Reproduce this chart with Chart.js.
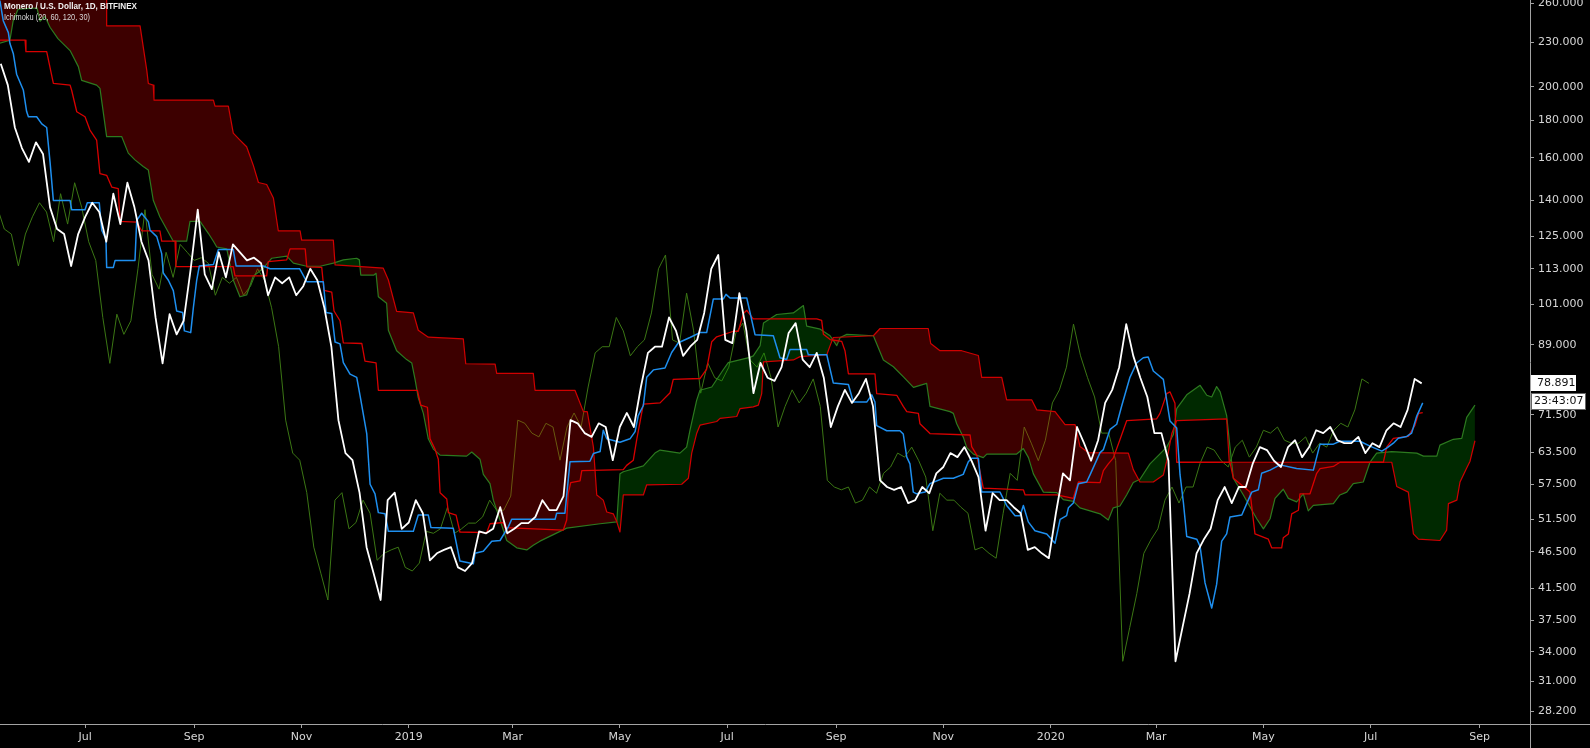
<!DOCTYPE html>
<html>
<head>
<meta charset="utf-8">
<title>XMR/USD Ichimoku</title>
<script src="https://cdn.jsdelivr.net/npm/chart.js@4.4.0/dist/chart.umd.min.js"></script>
<style>
  html, body { margin: 0; padding: 0; background: #000; }
  canvas { display: block; }
</style>
</head>
<body>
<canvas id="chart" width="1590" height="748"></canvas>
<script>
// days are counted from 1 Jul 2018
const TITLE = "Monero / U.S. Dollar, 1D, BITFINEX";
const SUBTITLE = "Ichimoku (20, 60, 120, 30)";
const dayMin = -48.45, dayMax = 821.6;
const monthDays = [0, 62, 123, 184, 243, 304, 365, 427, 488, 549, 609, 670, 731, 793];
const monthLabels = ["Jul", "Sep", "Nov", "2019", "Mar", "May", "Jul", "Sep", "Nov", "2020", "Mar", "May", "Jul", "Sep"];
const priceTicks = [28.2, 31, 34, 37.5, 41.5, 46.5, 51.5, 57.5, 63.5, 71.5, 89, 101, 113, 125, 140, 160, 180, 200, 230, 260];
const lastPrice = 78.891;
const lastTime = "23:43:07";
const lagDays = 30;

// daily close, one reading every 4 days from day -48
const closeStart = -48, closeStep = 4;
const close = [
  215, 201, 176, 165, 158, 168, 162, 137, 128, 126,
  114, 126, 133, 139, 135, 123, 143, 130, 148, 137,
  123, 116, 97, 84, 98, 92, 96, 113, 136, 111,
  106, 119, 110, 122, 119, 116, 117, 115, 104, 110,
  108, 110, 104, 107, 113, 109, 100, 88.5, 70.3, 63.4,
  62, 56, 47.2, 43.5, 40, 54.7, 56, 50, 51, 54.7,
  52.5, 45.3, 46.3, 46.8, 47.2, 44.3, 43.8, 44.9, 49.6, 49.3,
  50, 53.5, 49.3, 50, 50.9, 50.9, 51.9, 54.7, 53, 53,
  55.4, 70.3, 69.6, 67.5, 66.7, 69.6, 68.8, 62, 68.8, 71.9,
  68.8, 78, 86.8, 88.5, 88.5, 97, 93, 86, 88.5, 90.4,
  98.4, 113, 118, 90.4, 89.5, 104.7, 93, 76.5, 84.1, 80.3,
  79.5, 83, 92.4, 95.3, 85, 83, 86.8, 80.3, 68.8, 73.4,
  77.3, 74.2, 76.5, 80, 73.4, 58.2, 57, 56.5, 57, 54.2,
  54.7, 57, 55.9, 59.5, 60.7, 63.4, 62.6, 64.6, 61.9, 58.8,
  49.7, 55.9, 54.7, 54.7, 53.5, 52.5, 46.8, 47.2, 46.3, 45.6,
  52.5, 59.5, 58.2, 68.8, 65.4, 61.9, 66, 74.2, 77.3, 83,
  95, 86, 80.3, 75.6, 67.5, 67.5, 61.9, 33, 36.7, 40.8,
  46.3, 48.3, 50, 54.7, 57, 54.2, 57, 57, 61.4, 64.6,
  64, 61.9, 60.7, 64.6, 66, 62.6, 64.6, 68.1, 67.5, 68.8,
  66, 65.4, 65.4, 66.7, 63.4, 65.4, 64.6, 68.1, 69.6, 68.8,
  72.6, 80, 78.891
];

// conversion line (20) corners: [day, price]
const tenkan = [
  [-48.5,262],[-46.6,246],[-43.7,237],[-42.8,229],[-40.9,222],[-39,208],[-35.2,198],[-33.3,185],[-32.3,182],
  [-27.6,182],[-24.7,178],[-21.9,176],[-20,158],[-18.1,140],[-8.6,140],[-7.7,136],[-0.1,136],[1.2,139],[8,139],
  [9.4,127.5],[11.8,124],[12.2,113.5],[16,113.5],[17,116],[28.3,116],[29.3,131.5],[32.1,134.5],[35.9,131],
  [36.9,127.5],[40.7,125],[43.5,118.5],[44.4,111.5],[47.3,109],[50.1,105.5],[52,99],[55.4,98.5],[56.4,93],
  [60,92.5],[61.5,100],[63.4,109],[64.9,114],[72.9,114.5],[75.7,120],[84.2,120],[85.8,114],[101.3,114],
  [105.1,113],[122,113],[126,108.5],[135.4,108.5],[137,98.5],[140.2,98.2],[142.1,89.8],[144.9,89.3],
  [146.8,84.2],[150.6,81.2],[154.4,80.4],[156.3,75.9],[160.1,67.4],[162,57.5],[164.8,55.8],[166.7,52.6],
  [170.5,52.4],[172.4,49.6],[186.6,49.6],[189.4,52.2],[195.1,52.2],[196.6,50.2],[209.3,50.1],[213.1,45.2],
  [220.7,44.8],[221.7,46.3],[226.4,46.6],[231.2,48.1],[235.9,48.2],[240.6,50.3],[242.5,51.5],[267.2,51.5],
  [268.1,52.5],[272.8,52.5],[275.7,61.7],[287,61.8],[289,63.3],[292.8,63.7],[294.6,68.1],[296.6,66.3],
  [304.1,65.6],[309.8,66.3],[312.7,67.8],[314.5,71.3],[317.4,73.6],[319.3,80.4],[323.1,82.3],[329.7,82.8],
  [333.5,86.9],[337.3,89.6],[343.9,91.1],[349.6,92.5],[353.4,92.5],[357.2,102.8],[362.9,102.8],[364.4,104.3],
  [366.7,103.1],[376.2,103.1],[380.9,91.9],[391.3,91.6],[395.1,85.5],[398.9,85],[400.8,87.7],[410.3,87.7],
  [411.2,86.3],[421.7,86.3],[425.4,79],[434,78.6],[436.8,74.4],[444.4,74.4],[447.3,76.1],[449.1,74.4],
  [450.1,69.1],[455.8,68],[463.3,68],[465.2,67.3],[467.2,62.6],[469,61.3],[470.9,56.1],[472.8,55.8],
  [477.6,56.1],[480.4,57.6],[488,58.6],[493.7,58.6],[499.3,59.3],[502.2,61.7],[504.1,62.4],[507.9,62.4],
  [509.8,56.1],[520.2,56.1],[524,53.8],[528.8,52.1],[531.6,52.1],[533.5,53.8],[536.3,51.1],[540.1,49.7],
  [546.8,49.2],[551.5,47.8],[554.4,51.5],[558.1,52.1],[559.1,53.4],[561.9,54.2],[564.8,57.6],[569.5,57.9],
  [571.4,59.2],[577.1,63.5],[579,64.1],[582.8,68.3],[586.6,69.4],[589.4,73.5],[594.1,80.4],[597.9,84.1],
  [601.7,85.5],[604.5,85.7],[607.4,82],[613.1,79.9],[616.9,70.1],[620.7,68.6],[622.6,59.2],[624.5,54.3],
  [626.4,48.8],[632.1,48.4],[634,47.3],[636.8,42.2],[640.6,39],[643.4,42],[646.3,48.1],[649.1,49.2],
  [651,51.9],[657.7,52.2],[660.5,54.1],[663.4,56.1],[667.1,56.5],[669,59.5],[673.8,60.1],[679.4,61.1],
  [688.9,60.4],[698.4,60.1],[702.2,65.2],[709.8,65.2],[713.5,65.8],[724.9,65.8],[730.6,64.8],[737.3,63.8],
  [740.1,64.4],[743.9,65.4],[746.7,66.4],[751.5,66.8],[754.3,67.5],[757.2,71.2],[760.6,74.2]
];

// base line (60)
const kijun = [
  [-48.5,231.4],[-34.2,231.4],[-33.7,223.2],[-21.9,223.2],[-18.1,202.1],[-8.6,201],[-7.7,197.8],[-4.8,184.9],
  [-0.1,182],[2.7,174.6],[6.5,169.2],[8.4,152.3],[12.2,151.5],[15.1,146],[18.8,145.3],[19.8,131.1],[29.3,130.8],
  [32.1,127.3],[42.5,127.3],[43.5,123.2],[51.1,123.2],[51.6,113.8],[84.2,113.8],[85.2,110.5],[103.2,110.5],
  [104.1,115.6],[114.6,116.2],[116.5,120.3],[125.1,120.3],[126,113.7],[134.5,113.5],[135.8,105.6],[140.2,105],
  [141.5,99],[144.9,96],[146.8,89.6],[157.3,89.4],[159.1,84.6],[165.4,84.1],[166.7,77.2],[188.9,77.2],
  [190.8,73.7],[194.6,73.2],[196.1,66.3],[198.9,64.2],[200.8,62.2],[201.8,56],[205.6,54.9],[206.5,52.6],
  [210.9,52.2],[213.1,49.5],[228.3,49.4],[230.2,50.8],[237.8,51],[238.7,50.2],[271.9,49.8],[273.8,51.4],
  [274.7,55.9],[276.1,57.8],[281.4,58.1],[282.4,60],[306,60.2],[307.9,61],[311.7,62],[313.6,66.1],[317.4,73.9],
  [326.9,74.2],[332.6,76.6],[334.4,79.9],[349.6,80.1],[353.4,82.5],[356.3,89.9],[359.1,91.3],[368.6,92.9],
  [371.4,92.9],[374.3,98.2],[376.2,99.2],[379.9,96.6],[416,96.6],[418.8,96.1],[419.8,92],[423.6,90.5],
  [430.2,90],[432.1,87.3],[434,81.3],[449.1,81.3],[450.1,76.4],[461.5,76],[465.2,73.4],[467.2,72.2],
  [473.8,71.8],[474.7,69.5],[480.4,67.4],[503.2,67.1],[504.1,64.7],[507,63],[510.7,56.8],[533.5,56.5],
  [534.5,55.6],[552.5,55.6],[561.9,55],[562.9,56.1],[564.8,57.9],[577.1,57.8],[579,60],[581.8,61.3],
  [584.6,62.4],[588.4,66.1],[592.3,70.2],[609.3,70.6],[611.2,71.8],[615,76.4],[616.9,76.8],[619.7,74.1],
  [620.7,61.6],[651,61.6],[652.9,58.6],[662.4,56.1],[665.2,49.2],[672.8,48.4],[674.7,47.1],[680.4,47.1],
  [681.3,48.6],[684.2,49.2],[686.1,52.4],[689.9,53],[690.8,55.8],[696.5,55.8],[700.3,59.5],[702.2,60.4],
  [709.8,60.8],[713.5,61.6],[738.2,61.6],[740.1,64.6],[743.9,66.4],[752.4,66.8],[756.2,69.2],[758.2,71.8],
  [760.6,72]
];

// leading span A (drawn 30 days ahead)
const spanA = [
  [-48.5,229.3],[-42.8,231.4],[-41,245.6],[-38.2,255],[-27.4,256],[-25.7,245.6],[-22.9,249.4],[-20,241],
  [-15.5,232.6],[-8.6,224],[-3.9,213],[-2,204],[6.5,201],[8.4,199],[12.2,171],[20.8,171],[24.5,162.4],
  [28.3,159],[33,155.7],[35.9,154],[38.7,140.1],[42.5,132.9],[50.1,123.2],[57.7,123.2],[59.6,131.1],
  [65.3,131.1],[70,126.3],[72.9,123.2],[74.8,121],[80.5,120.3],[84.2,109.1],[88,103.5],[91.8,104.1],
  [95.6,110.4],[101.3,113.2],[106.1,116.8],[114.6,117.6],[118.4,115],[126,113.9],[133.6,113.9],[141.1,115],
  [146.8,116.2],[154.4,116.8],[155.9,116.2],[156.7,110.8],[164.2,110.8],[165.4,111.4],[166.7,103.5],
  [171.4,101.4],[172.4,93.2],[177.1,87.4],[182.8,85],[185.7,84.1],[187.6,79.8],[189.4,75.4],[192.3,71.8],
  [195.1,66.3],[198,64.2],[201.8,63],[216.9,62.8],[219.8,63.6],[224.5,62.2],[226.4,59.3],[230.2,57.6],
  [232.1,54.7],[235.9,51.4],[239.7,48.2],[245.4,47.1],[251.1,46.8],[254.8,47.5],[258.6,48.1],[266.2,49.1],
  [273.8,50.1],[292.8,50.8],[302.3,51.1],[304.1,59.4],[306,59.8],[317.4,60.9],[324,63.4],[326.9,64],
  [338.2,63.4],[342,64.6],[343.9,68.1],[347.7,74.8],[349.6,77.2],[356.3,78],[362.9,82.4],[365.7,84.2],
  [378,85.6],[379.9,86],[383.8,88.8],[385.7,95.3],[393.2,97.9],[402.7,98.4],[408.4,100.7],[410.3,94.4],
  [418,93.5],[423.6,91.6],[427.4,88.8],[429.3,91.1],[433.1,92],[448.2,91.6],[453.9,84.9],[459.6,83.1],
  [465.3,80.5],[471,77.9],[474.7,78.4],[478.5,78.9],[480.4,73.4],[491.8,72.2],[493.7,71.8],[495.6,69.5],
  [499.4,66.6],[501.3,64.5],[505.1,63.2],[510.7,62.5],[512.7,63.2],[529.7,63.2],[533.5,64.3],[536.4,62.5],
  [539.2,59.4],[544.9,56.1],[552.5,56],[556.2,54.8],[561.9,54.5],[565.7,53.4],[577.1,52.4],[581.8,51.4],
  [584.6,53.4],[588.4,53.7],[592.2,55.6],[596,57.8],[599.8,58.4],[605.5,61.3],[615,64.6],[618.8,67.2],
  [620.7,72.9],[626.4,76.1],[634,78.4],[637.8,76],[640.6,75.6],[643.4,78.1],[645.4,76.8],[647.2,74.1],
  [649.1,71.3],[651,64.6],[652.9,58.6],[658.6,55.6],[666.2,51.6],[670,50],[673.8,51.6],[676.6,55],
  [681.3,56.6],[684.2,55],[688.9,54.4],[692.7,55.8],[695.5,52.9],[698.4,53.8],[709.8,54.1],[713.5,55.6],
  [717.4,56.1],[721.1,57.6],[726.8,57.9],[730.6,61.6],[732.5,62.5],[734.4,63.4],[743,63.7],[757.2,63.4],
  [761,62.8],[768.6,62.8],[770.4,65],[778,66.2],[782.8,66.4],[785.6,70.9],[790.3,73.7]
];

// leading span B (drawn 30 days ahead)
const spanB = [
  [-48.5,285],[12.2,285],[12.2,242],[31.2,242],[35,210.7],[35.9,202],[38.7,201],[39.1,191.8],[72.9,191.8],
  [73.8,188.2],[81.4,188.2],[84.2,172.9],[88,169.2],[91.8,165.7],[95.6,156.3],[98.5,148.1],[103.2,147.2],
  [107,141.1],[109.8,127.3],[122.2,127.3],[123.1,123.6],[141.1,123.6],[142.1,114.4],[169.5,113.2],
  [172.4,109.1],[177.1,98.9],[186.6,98.4],[189.4,93.2],[195.1,91.2],[215,90.7],[216.4,83.9],[233.1,83.8],
  [234,81.4],[254.8,81.4],[255.8,77.2],[278.5,77.2],[283.3,72.2],[285.5,72.2],[289,64.6],[290.9,55.6],
  [294.6,54.7],[296.6,52.7],[300.3,52.4],[302.3,51.1],[304.1,49.5],[306,55.6],[317.4,55.6],[319.3,57.4],
  [339.2,57.5],[343,58.6],[344.9,63.4],[347.7,67.4],[349.6,69.2],[359.1,70],[361,70.7],[370.5,71.1],
  [372.4,72.9],[379.9,73.3],[382.8,73.7],[384.7,76.4],[385.7,84.4],[402.7,84.9],[406.5,85.8],[421.7,86.3],
  [423.6,88.8],[425.4,91.1],[448.2,91.6],[452,93.7],[479.4,93.7],[480.8,89.4],[486.1,87.4],[498.4,87.4],
  [507.9,86.1],[509.8,80.4],[521.2,80.4],[524,74.9],[538.3,74.9],[541.1,72.6],[551.5,72.2],[557.2,69.3],
  [562.9,69.3],[565.7,64.7],[570.4,63.5],[593.2,63.4],[596,60.2],[599.8,57.9],[607.4,57.9],[613.1,59.2],
  [615,61.8],[617.9,67.4],[620.7,70.2],[649.1,70.6],[650.6,61.6],[743,61.6],[745.8,57.1],[752.4,56.1],
  [755.3,49.2],[758.2,48.4],[770.4,48.2],[774.2,49.8],[775.2,54.1],[780,54.7],[781.8,57.9],[785.6,60.5],
  [787.5,61.8],[790.3,65.9]
];

const closePoints = close.map((v, i) => ({ x: closeStart + i * closeStep, y: v }));
const lagPoints = close.map((v, i) => ({ x: closeStart + i * closeStep - lagDays, y: v }));
const toPoints = list => list.map(p => ({ x: p[0], y: p[1] }));

const axisColor = "#a3a3a3";
const labelColor = "#d6d6d6";
const labelFont = { family: "'DejaVu Sans', sans-serif", size: 11 };

const line = (label, data, color, width, order, extra) => Object.assign({
  label, data, borderColor: color, borderWidth: width, order,
  pointRadius: 0, tension: 0, fill: false, borderJoinStyle: "round"
}, extra || {});

// draws text squeezed to a given width
function fitText(ctx, text, x, y, width) {
  const w = ctx.measureText(text).width;
  ctx.save();
  ctx.translate(x, y);
  ctx.scale(Math.min(1, width / w), 1);
  ctx.fillText(text, 0, 0);
  ctx.restore();
}

const overlay = {
  id: "overlay",
  beforeDraw(chart) {
    const ctx = chart.ctx;
    ctx.save();
    ctx.fillStyle = "#000";
    ctx.fillRect(0, 0, chart.width, chart.height);
    ctx.restore();
  },
  afterDraw(chart) {
    const ctx = chart.ctx;
    const area = chart.chartArea;
    ctx.save();
    // axis lines run through the corner
    ctx.strokeStyle = axisColor;
    ctx.lineWidth = 1;
    ctx.beginPath();
    ctx.moveTo(area.right + 0.5, area.bottom);
    ctx.lineTo(area.right + 0.5, chart.height);
    ctx.moveTo(area.right, area.bottom + 0.5);
    ctx.lineTo(chart.width, area.bottom + 0.5);
    ctx.stroke();

    ctx.textAlign = "left";
    ctx.textBaseline = "top";
    ctx.fillStyle = "#f0f0f0";
    ctx.font = "bold 9.5px 'Liberation Sans', sans-serif";
    fitText(ctx, TITLE, 4, 2, 133);
    ctx.fillStyle = "#d8d8d8";
    ctx.font = "9.5px 'Liberation Sans', sans-serif";
    fitText(ctx, SUBTITLE, 4, 13, 86);

    const y = Math.round(chart.scales.y.getPixelForValue(lastPrice));
    const x0 = area.right + 1;
    ctx.fillStyle = "#fff";
    ctx.fillRect(x0, y - 8, 45, 16);
    ctx.fillRect(x0, y + 10, 55, 17);
    ctx.strokeStyle = "#666";
    ctx.strokeRect(x0 + 0.5, y + 10.5, 54, 16);
    ctx.fillStyle = "#111";
    ctx.font = "11px 'DejaVu Sans', sans-serif";
    ctx.textBaseline = "middle";
    ctx.fillText(lastPrice.toFixed(3), x0 + 6, y);
    ctx.fillText(lastTime, x0 + 3, y + 18.5);
    ctx.restore();
  }
};

new Chart(document.getElementById("chart"), {
  type: "line",
  data: {
    datasets: [
      line("Lagging Span", lagPoints, "#3b7614", 1, 6),
      line("Lead 1", toPoints(spanA), "#2c7a1f", 1.2, 5, {
        fill: { target: 2, above: "rgba(0,150,0,0.27)", below: "rgba(255,0,0,0.24)" }
      }),
      line("Lead 2", toPoints(spanB), "#d00000", 1.2, 4),
      line("Base Line", toPoints(kijun), "#d80000", 1.3, 3),
      line("Conversion Line", toPoints(tenkan), "#1e8fef", 1.5, 2),
      line("XMRUSD", closePoints, "#ffffff", 1.8, 1)
    ]
  },
  options: {
    responsive: false,
    devicePixelRatio: 1,
    animation: false,
    events: [],
    layout: { padding: 0, autoPadding: false },
    plugins: { legend: { display: false }, tooltip: { enabled: false } },
    scales: {
      x: {
        type: "linear",
        position: "bottom",
        min: dayMin,
        max: dayMax,
        afterBuildTicks: s => { s.ticks = monthDays.map(v => ({ value: v })); },
        afterFit: s => { s.height = 24; s.paddingLeft = 0; s.paddingRight = 0; },
        grid: { drawOnChartArea: false, drawTicks: true, tickLength: 4, color: axisColor },
        border: { display: true, color: axisColor },
        ticks: {
          autoSkip: false, maxRotation: 0, minRotation: 0, padding: 3,
          color: labelColor, font: labelFont,
          callback: (v, i) => monthLabels[i]
        }
      },
      y: {
        type: "logarithmic",
        position: "right",
        min: 27.11,
        max: 262.5,
        afterBuildTicks: s => { s.ticks = priceTicks.map(v => ({ value: v })); },
        afterFit: s => { s.width = 60; s.paddingTop = 0; s.paddingBottom = 0; },
        grid: { drawOnChartArea: false, drawTicks: true, tickLength: 4, color: axisColor },
        border: { display: true, color: axisColor },
        ticks: {
          autoSkip: false, padding: 4, color: labelColor, font: labelFont,
          callback: v => Number(v).toFixed(3)
        }
      }
    }
  },
  plugins: [overlay]
});
</script>
</body>
</html>
